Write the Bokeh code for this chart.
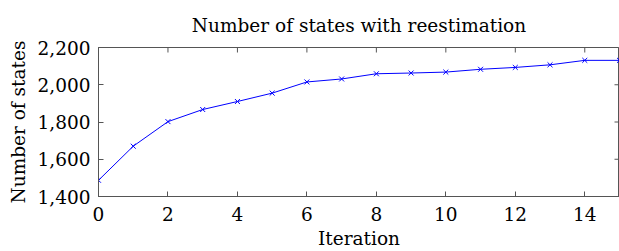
import math
from bokeh.plotting import figure
from bokeh.models import NumeralTickFormatter, Range1d, FixedTicker
from bokeh.embed import file_html
from bokeh.resources import INLINE

title_text = "Number of states with reestimation"
iterations = list(range(16))
states = [1487, 1670, 1802, 1867, 1910, 1955, 2015, 2031, 2059, 2063, 2068, 2083, 2093, 2107, 2131, 2131]
x_ticks = [0, 2, 4, 6, 8, 10, 12, 14]
y_ticks = [1400, 1600, 1800, 2000, 2200]
x_min, x_max = 0, 15
y_min, y_max = 1400, 2200

FONT = "DejaVu Serif"
FS = "18.5px"
AX = "#555555"

p = figure(width=619, height=251, output_backend="svg", toolbar_location=None,
           x_range=Range1d(x_min, x_max), y_range=Range1d(y_min, y_max),
           min_border_left=98, min_border_right=0, min_border_top=47, min_border_bottom=54,
           title=title_text)
p.title.text_font = FONT
p.title.text_font_size = FS
p.title.text_font_style = "normal"
p.title.align = "center"
p.title.text_color = "black"
p.title.standoff = 24

p.xgrid.visible = False
p.ygrid.visible = False
p.outline_line_color = AX
p.outline_line_width = 1

p.line(iterations, states, line_color="#0000ff", line_width=1)
p.scatter(iterations, states, marker="x", size=7, line_color="#0000ff", line_width=1)

# mirrored ticks on the top and right frame edges
p.scatter(x_ticks, [y_max] * len(x_ticks), marker="dash", angle=math.pi / 2, size=10,
          line_color=AX, line_width=1)
p.scatter([x_max] * len(y_ticks), y_ticks, marker="dash", size=10,
          line_color=AX, line_width=1)

for ax in (p.xaxis[0], p.yaxis[0]):
    ax.axis_line_color = AX
    ax.major_tick_line_color = AX
    ax.major_tick_in = 5
    ax.major_tick_out = 0
    ax.minor_tick_line_color = None
    ax.major_label_text_font = FONT
    ax.major_label_text_font_size = FS
    ax.major_label_text_color = "black"
    ax.axis_label_text_font = FONT
    ax.axis_label_text_font_size = FS
    ax.axis_label_text_font_style = "normal"
    ax.axis_label_text_color = "black"

p.xaxis[0].ticker = FixedTicker(ticks=x_ticks)
p.yaxis[0].ticker = FixedTicker(ticks=y_ticks)
p.yaxis[0].formatter = NumeralTickFormatter(format="0,0")
p.xaxis[0].axis_label = "Iteration"
p.yaxis[0].axis_label = "Number of states"
p.xaxis[0].major_label_standoff = 10
p.yaxis[0].major_label_standoff = 8
p.xaxis[0].axis_label_standoff = 4
p.yaxis[0].axis_label_standoff = 6

open("out.html", "w").write(file_html(p, INLINE))
